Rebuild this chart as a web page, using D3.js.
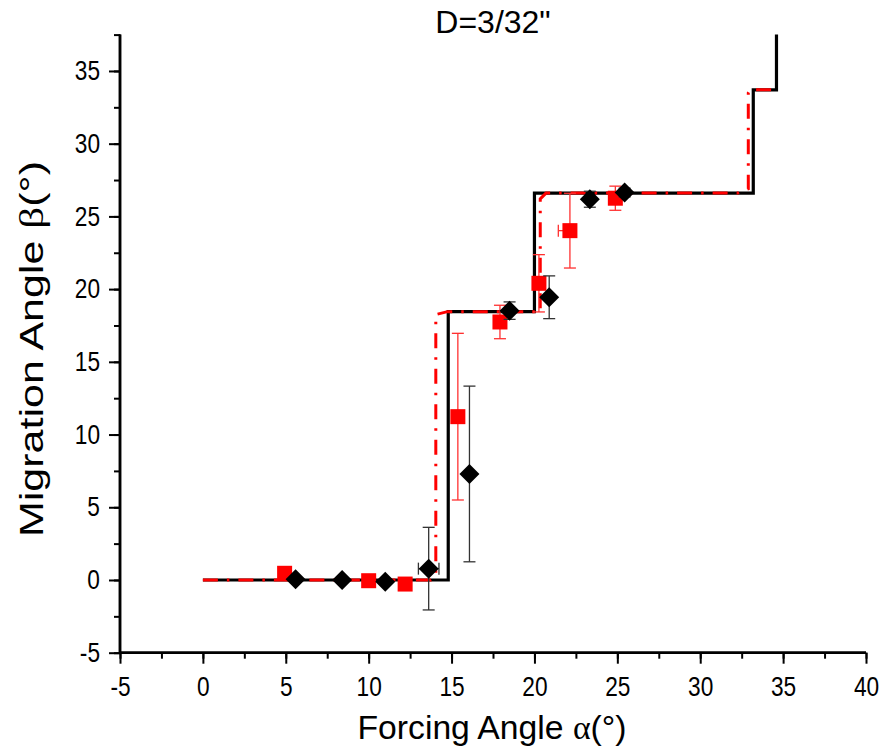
<!DOCTYPE html>
<html><head><meta charset="utf-8">
<script src="https://cdn.jsdelivr.net/npm/d3@7"></script>
<style>body{margin:0;background:#fff}svg{display:block}text{font-family:"Liberation Sans",Arial,sans-serif}</style>
</head><body><svg id="c" width="888" height="755"></svg>
<script>
// ---- data ----
const xTicks = [-5,0,5,10,15,20,25,30,35,40];
const yTicks = [-5,0,5,10,15,20,25,30,35];
// theory step lines
const blackLineX = [0,14.8,14.8,20.0,20.0,33.2,33.2,34.6,34.6];
const blackLineY = [0,0,18.45,18.45,26.6,26.6,33.7,33.7,37.5];
const redLineX = [0,13.75,14.05,14.05,14.75,20.35,20.35,20.7,32.25,32.9,32.9,33.0,34.6];
const redLineY = [0,0,0.4,18.25,18.45,18.45,26.2,26.6,26.6,26.9,33.5,33.7,33.7];
// measured points (black diamonds)
const blackX = [5.59,8.4,11.0,13.62,16.08,18.5,20.89,23.34,25.44];
const blackY = [0.05,0.0,-0.12,0.78,7.29,18.52,19.44,26.18,26.64];
const blackYErr = [0,0,0,2.84,6.04,0.6,1.47,0.55,0.3];
const blackXErr = [0,0,0,0.62,0,0,0,0,0];
// measured points (red squares)
const redX = [4.93,10.0,12.2,15.38,17.92,20.27,22.14,24.88];
const redY = [0.46,-0.05,-0.28,11.23,17.74,20.4,24.02,26.25];
const redYErr = [0,0,0,5.73,1.15,1.97,2.57,0.83];
const redXErrLow = [0,0,0,0,0,0,0.7,0];

const svg = d3.select("#c");
const L=120, R=866, T=34.6, B=652.7;
const x = d3.scaleLinear().domain([-5,40]).range([L,R]);
const y = d3.scaleLinear().domain([-5,37.5]).range([B,T]);
const fmt = d => String(d);

// axes
const xMinor = d3.range(-5,40.01,2.5);
const yMinor = d3.range(-5,37.51,2.5);
const gx = svg.append("g").attr("transform",`translate(0,${B})`);
gx.call(d3.axisBottom(x).tickValues(xMinor).tickSize(6).tickFormat(""));
const gx2 = svg.append("g").attr("transform",`translate(0,${B})`);
gx2.call(d3.axisBottom(x).tickValues(xTicks).tickSize(11).tickPadding(13).tickFormat(fmt));
const gy = svg.append("g").attr("transform",`translate(${L},0)`);
gy.call(d3.axisLeft(y).tickValues(yMinor).tickSize(6).tickFormat(""));
const gy2 = svg.append("g").attr("transform",`translate(${L},0)`);
gy2.call(d3.axisLeft(y).tickValues(yTicks).tickSize(11).tickPadding(9).tickFormat(fmt));
svg.selectAll(".domain").attr("stroke","#000").attr("stroke-width",2.5);
svg.selectAll(".tick line").attr("stroke","#000").attr("stroke-width",2);
svg.selectAll(".tick text").attr("font-size",27).attr("fill","#000")
  .attr("font-family","Liberation Sans, Arial, sans-serif")
  .each(function(){const w=this.getComputedTextLength();d3.select(this).attr("textLength",w*0.84).attr("lengthAdjust","spacingAndGlyphs");});
gy.select(".domain").attr("d",`M0,${B}V${T}`);
gy2.select(".domain").attr("d",`M0,${B}V${T}`);
gx.select(".domain").attr("d",`M${L},0H${R}`);
gx2.select(".domain").attr("d",`M${L},0H${R}`);

// lines
const line = d3.line().x(d=>x(d[0])).y(d=>y(d[1]));
svg.append("path").attr("d",line(blackLineX.map((v,i)=>[v,blackLineY[i]])))
  .attr("fill","none").attr("stroke","#000").attr("stroke-width",3.2);
svg.append("path").attr("d",line(redLineX.map((v,i)=>[v,redLineY[i]])))
  .attr("fill","none").attr("stroke","#ff0000").attr("stroke-width",3)
  .attr("stroke-dasharray","15,9,2.5,9");

function errBars(xs,ys,ye,xl,xh,color,w){
  const g=svg.append("g").attr("stroke",color).attr("stroke-width",w).attr("fill","none");
  xs.forEach((xv,i)=>{
    if(ye[i]>0){
      g.append("line").attr("x1",x(xv)).attr("x2",x(xv)).attr("y1",y(ys[i]-ye[i])).attr("y2",y(ys[i]+ye[i]));
      [ys[i]-ye[i],ys[i]+ye[i]].forEach(v=>g.append("line").attr("x1",x(xv)-6).attr("x2",x(xv)+6).attr("y1",y(v)).attr("y2",y(v)));
    }
    const lo=xl[i], hi=xh[i];
    if(lo>0||hi>0){
      g.append("line").attr("x1",x(xv-lo)).attr("x2",x(xv+hi)).attr("y1",y(ys[i])).attr("y2",y(ys[i]));
      if(lo>0) g.append("line").attr("x1",x(xv-lo)).attr("x2",x(xv-lo)).attr("y1",y(ys[i])-6).attr("y2",y(ys[i])+6);
      if(hi>0) g.append("line").attr("x1",x(xv+hi)).attr("x2",x(xv+hi)).attr("y1",y(ys[i])-6).attr("y2",y(ys[i])+6);
    }
  });
}
errBars(redX,redY,redYErr,redXErrLow,redX.map(()=>0),"#ff3030",1.3);
svg.append("g").selectAll("rect").data(redX).join("rect")
  .attr("x",(d)=>x(d)-7.5).attr("y",(d,i)=>y(redY[i])-7.5).attr("width",15).attr("height",15).attr("fill","#ff0000");
errBars(blackX,blackY,blackYErr,blackXErr,blackXErr,"#333",1.3);
svg.append("g").selectAll("path").data(blackX).join("path")
  .attr("d",(d,i)=>{const cx=x(d),cy=y(blackY[i]),r=10;return `M${cx},${cy-r}L${cx+r},${cy}L${cx},${cy+r}L${cx-r},${cy}Z`;})
  .attr("fill","#000");

// titles
svg.append("text").attr("x",493).attr("y",33).attr("text-anchor","middle").attr("font-size",32).text('D=3/32"');
const xt = svg.append("text").attr("x",492).attr("y",739).attr("text-anchor","middle").attr("font-size",33)
  .attr("textLength",269).attr("lengthAdjust","spacingAndGlyphs");
xt.append("tspan").text("Forcing Angle ");
xt.append("tspan").attr("font-family","Liberation Serif, serif").text("α");
xt.append("tspan").text("(°)");
const yt = svg.append("text").attr("transform","translate(43,349) rotate(-90)").attr("text-anchor","middle").attr("font-size",34)
  .attr("textLength",376).attr("lengthAdjust","spacingAndGlyphs");
yt.append("tspan").text("Migration Angle ");
yt.append("tspan").attr("font-family","Liberation Serif, serif").text("β");
yt.append("tspan").text("(°)");
</script></body></html>
